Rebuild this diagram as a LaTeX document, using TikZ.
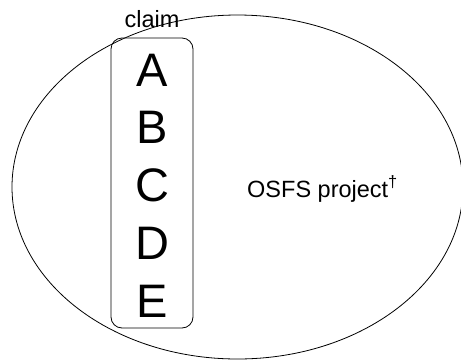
\documentclass[tikz,border=0pt]{standalone}
\usepackage{fontspec}
\setmainfont{Liberation Sans}
\usetikzlibrary{shapes.geometric}
\begin{document}
\begin{tikzpicture}[x=1pt,y=-1pt,
  outline/.style={draw=black,line width=0.8pt},
  label/.style={font=\fontsize{23.5}{27}\selectfont,inner sep=0pt},
  letter/.style={font=\fontsize{47}{52}\selectfont,inner sep=0pt,anchor=base}]
\useasboundingbox (0,0) rectangle (461,360);
% the project scope
\node[outline,ellipse,inner sep=0pt,minimum width=451pt,minimum height=344pt] (project) at (237.5,187) {};
\node[label,anchor=base west] (projname) at (247,197) {OSFS project\textsuperscript{†}};
% the claim column
\node[outline,rounded corners=11pt,inner sep=0pt,minimum width=82pt,minimum height=290pt] (claimbox) at (152,183) {};
\node[label,anchor=base] (claimname) at (152,27) {claim};
\node[letter] (la) at (152,86) {A};
\node[letter] (lb) at (152,143.75) {B};
\node[letter] (lc) at (152,201.5) {C};
\node[letter] (ld) at (152,259.25) {D};
\node[letter] (le) at (152,317) {E};
\end{tikzpicture}
\end{document}
